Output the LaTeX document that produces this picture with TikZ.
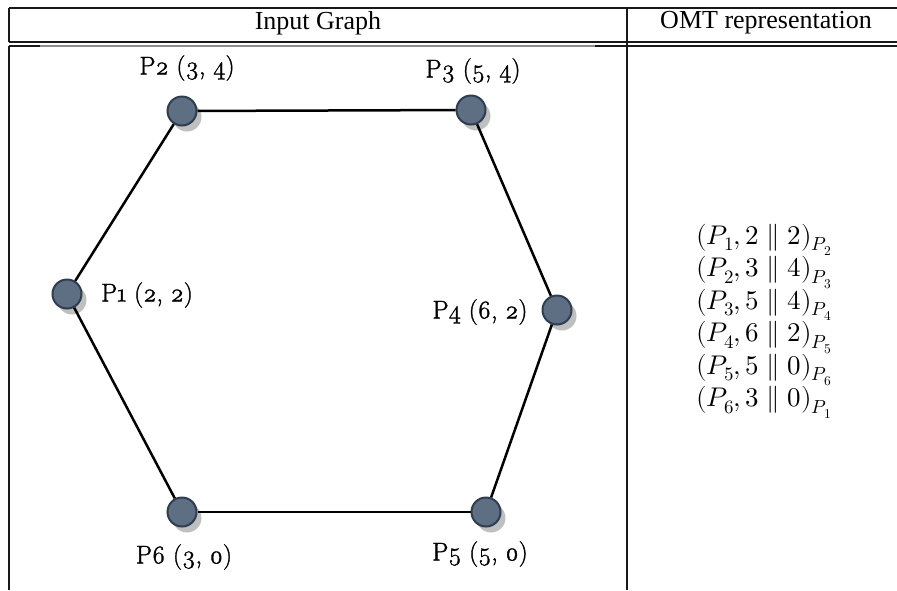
\documentclass[tikz,border=0pt]{standalone}
\usepackage{fontspec}
\usepackage{unicode-math}
\setmainfont{Liberation Serif}
\setmathfont{Latin Modern Math}
\newfontfamily\labelfont[Numbers=OldStyle, FakeBold=1.4]{Latin Modern Roman}
\usetikzlibrary{shadows}
\definecolor{nodefill}{HTML}{5E6E83}
\definecolor{nodeedge}{HTML}{2E3D50}
\definecolor{shadowgray}{HTML}{BFBFBF}
\begin{document}
\begin{tikzpicture}[x=1pt,y=-1pt,
  vert/.style={circle, minimum size=29pt, inner sep=0pt, fill=nodefill, draw=nodeedge, line width=2pt,
    general shadow={fill=shadowgray, shadow xshift=5pt, shadow yshift=-6pt}},
  vlabel/.style={font=\labelfont\fontsize{25.5}{30}\selectfont, inner sep=0pt},
  edge/.style={line width=2.5pt, black},
  rule/.style={line width=1.1pt, black!90},
  head/.style={font=\fontsize{26}{30}\selectfont, inner sep=0pt}]
\useasboundingbox (0,0) rectangle (897,590);
% table rules
\draw[rule] (9,8) -- (897,8);
\draw[rule] (9,8) -- (9,42);
\draw[rule] (9,42) -- (897,42);
\draw[rule, black!45] (40,46) -- (595,46);
\draw[rule] (9,46) -- (40,46);
\draw[rule] (595,46) -- (897,46);
\draw[rule] (9,46) -- (9,590);
\draw[rule] (627,8) -- (627,590);
% headers
\node[head] (h1) at (318,23) {Input Graph};
\node[head] (h2) at (766,23) {OMT representation};
% vertices
\node[vert] (p1) at (67,294) {};
\node[vert] (p2) at (182,111) {};
\node[vert] (p3) at (471,110) {};
\node[vert] (p4) at (557,310) {};
\node[vert] (p5) at (486,512) {};
\node[vert] (p6) at (182,512) {};
% edges
\draw[edge] (p1) -- (p2);
\draw[edge] (p2) -- (p3);
\draw[edge] (p3) -- (p4);
\draw[edge] (p4) -- (p5);
\draw[edge] (p5) -- (p6);
\draw[edge] (p6) -- (p1);
% labels
\node[vlabel] (l2) at (187,68) {P2 (3, 4)};
\node[vlabel] (l3) at (473,71) {P3 (5, 4)};
\node[vlabel] (l1) at (147,295) {P1 (2, 2)};
\node[vlabel] (l4) at (480,312) {P4 (6, 2)};
\node[vlabel] (l6) at (184,557) {P6 (3, 0)};
\node[vlabel] (l5) at (480,554) {P5 (5, 0)};
% OMT representation
\node[font=\fontsize{27}{32.5}\selectfont, align=center, inner sep=0pt] (omt) at (764,321) {%
$(P_1, 2 \parallel 2)_{P_2}$\\
$(P_2, 3 \parallel 4)_{P_3}$\\
$(P_3, 5 \parallel 4)_{P_4}$\\
$(P_4, 6 \parallel 2)_{P_5}$\\
$(P_5, 5 \parallel 0)_{P_6}$\\
$(P_6, 3 \parallel 0)_{P_1}$};
\end{tikzpicture}
\end{document}
